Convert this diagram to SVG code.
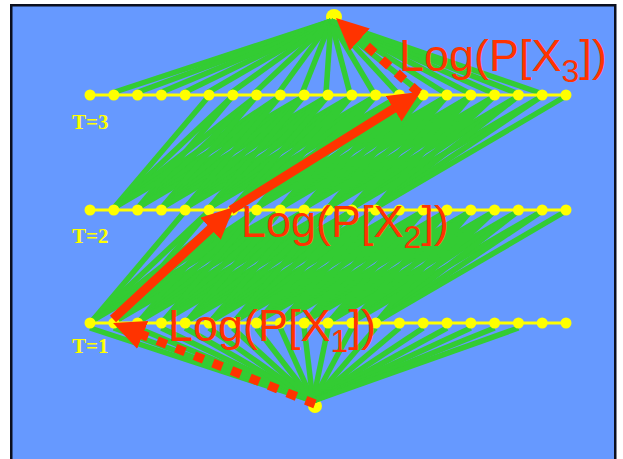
<svg xmlns="http://www.w3.org/2000/svg" width="623" height="459" viewBox="0 0 623 459">
  <style>
    .panel { fill: #6699ff; stroke: #0b0f1e; stroke-width: 2.5; }
    .edge { stroke: #33cc33; stroke-width: 5.5; stroke-linecap: butt; fill: none; }
    .rail { stroke: #ffff00; stroke-width: 3; fill: none; }
    .dot { fill: #ffff00; }
    .path-solid { stroke: #ff3300; stroke-width: 9; fill: none; }
    .path-dash { stroke: #ff3300; stroke-width: 9; fill: none; stroke-dasharray: 10 10; }
    .tlabel { font-family: "Liberation Serif", "Times New Roman", serif; font-weight: bold; font-size: 21px; fill: #ffff00; }
    .plabel { font-family: "Liberation Sans", Arial, sans-serif; font-size: 45px; fill: #ff3300; }
    .sub { font-size: 32px; }
  </style>
  <defs>
    <marker id="head" markerUnits="userSpaceOnUse" markerWidth="32" markerHeight="30" viewBox="0 0 32 30" refX="12" refY="15" orient="auto">
      <path d="M0,0 L32,15 L0,30 Z" fill="#ff3300"/>
    </marker>
    <!-- fan of transitions leaving one T=1 state towards T=2 -->
    <g id="fanA">
      <line class="edge" x1="2" y1="321" x2="95.2" y2="211"/>
      <line class="edge" x1="2" y1="321" x2="119" y2="211"/>
      <line class="edge" x1="2" y1="321" x2="142.8" y2="211"/>
      <line class="edge" x1="2" y1="321" x2="166.6" y2="211"/>
      <line class="edge" x1="2" y1="321" x2="190.4" y2="211"/>
    </g>
    <!-- fan of transitions leaving one T=2 state towards T=3 -->
    <g id="fanB">
      <line class="edge" x1="0" y1="208" x2="95.2" y2="96"/>
      <line class="edge" x1="0" y1="208" x2="119" y2="96"/>
      <line class="edge" x1="0" y1="208" x2="142.8" y2="96"/>
      <line class="edge" x1="0" y1="208" x2="166.6" y2="96"/>
      <line class="edge" x1="0" y1="208" x2="190.4" y2="96"/>
    </g>
  </defs>

  <rect x="0" y="0" width="623" height="459" fill="#ffffff"/>
  <rect class="panel" x="11.25" y="5.25" width="604" height="470"/>

  <g id="start-node"><circle class="dot" cx="315" cy="406" r="7"/></g>
  <g id="end-node"><circle class="dot" cx="334" cy="17" r="8"/></g>

  <g id="connectors">
    <!-- start node to T=1 -->
    <g id="fan-start">
      <line class="edge" x1="313" y1="401" x2="90" y2="328"/>
      <line class="edge" x1="313" y1="401" x2="113.8" y2="328"/>
      <line class="edge" x1="313" y1="401" x2="137.6" y2="328"/>
      <line class="edge" x1="313" y1="401" x2="161.4" y2="328"/>
      <line class="edge" x1="313" y1="401" x2="185.2" y2="328"/>
      <line class="edge" x1="313" y1="401" x2="209" y2="328"/>
      <line class="edge" x1="313" y1="401" x2="232.8" y2="328"/>
      <line class="edge" x1="313" y1="401" x2="256.6" y2="328"/>
      <line class="edge" x1="313" y1="401" x2="280.4" y2="328"/>
      <line class="edge" x1="313" y1="401" x2="304.2" y2="328"/>
      <line class="edge" x1="313" y1="401" x2="328" y2="328"/>
      <line class="edge" x1="313" y1="401" x2="351.8" y2="328"/>
      <line class="edge" x1="313" y1="401" x2="375.6" y2="328"/>
      <line class="edge" x1="313" y1="401" x2="399.4" y2="328"/>
      <line class="edge" x1="313" y1="401" x2="423.2" y2="328"/>
      <line class="edge" x1="313" y1="401" x2="447" y2="328"/>
      <line class="edge" x1="313" y1="401" x2="470.8" y2="328"/>
      <line class="edge" x1="313" y1="401" x2="494.6" y2="328"/>
      <line class="edge" x1="313" y1="401" x2="518.4" y2="328"/>
    </g>
    <!-- T=1 to T=2 -->
    <g id="fan-t1-t2">
      <use href="#fanA" x="90"/>
      <use href="#fanA" x="113.8"/>
      <use href="#fanA" x="137.6"/>
      <use href="#fanA" x="161.4"/>
      <use href="#fanA" x="185.2"/>
      <use href="#fanA" x="209"/>
      <use href="#fanA" x="232.8"/>
      <use href="#fanA" x="256.6"/>
      <use href="#fanA" x="280.4"/>
      <use href="#fanA" x="304.2"/>
      <use href="#fanA" x="328"/>
      <use href="#fanA" x="351.8"/>
      <use href="#fanA" x="375.6"/>
    </g>
    <!-- T=2 to T=3 -->
    <g id="fan-t2-t3">
      <use href="#fanB" x="113.8"/>
      <use href="#fanB" x="137.6"/>
      <use href="#fanB" x="161.4"/>
      <use href="#fanB" x="185.2"/>
      <use href="#fanB" x="209"/>
      <use href="#fanB" x="232.8"/>
      <use href="#fanB" x="256.6"/>
      <use href="#fanB" x="280.4"/>
      <use href="#fanB" x="304.2"/>
      <use href="#fanB" x="328"/>
      <use href="#fanB" x="351.8"/>
      <use href="#fanB" x="375.6"/>
    </g>
    <!-- T=3 to end node -->
    <g id="fan-end">
      <line class="edge" x1="331" y1="21" x2="111.8" y2="93"/>
      <line class="edge" x1="331" y1="21" x2="135.6" y2="93"/>
      <line class="edge" x1="331" y1="21" x2="159.4" y2="93"/>
      <line class="edge" x1="331" y1="21" x2="183.2" y2="93"/>
      <line class="edge" x1="331" y1="21" x2="207" y2="93"/>
      <line class="edge" x1="331" y1="21" x2="230.8" y2="93"/>
      <line class="edge" x1="331" y1="21" x2="254.6" y2="93"/>
      <line class="edge" x1="331" y1="21" x2="278.4" y2="93"/>
      <line class="edge" x1="331" y1="21" x2="302.2" y2="93"/>
      <line class="edge" x1="331" y1="21" x2="326" y2="93"/>
      <line class="edge" x1="331" y1="21" x2="349.8" y2="93"/>
      <line class="edge" x1="331" y1="21" x2="373.6" y2="93"/>
      <line class="edge" x1="331" y1="21" x2="397.4" y2="93"/>
      <line class="edge" x1="331" y1="21" x2="421.2" y2="93"/>
      <line class="edge" x1="331" y1="21" x2="445" y2="93"/>
      <line class="edge" x1="331" y1="21" x2="468.8" y2="93"/>
      <line class="edge" x1="331" y1="21" x2="492.6" y2="93"/>
      <line class="edge" x1="331" y1="21" x2="516.4" y2="93"/>
      <line class="edge" x1="331" y1="21" x2="540.2" y2="93"/>
    </g>
  </g>

  <g id="layer-t1">
    <line class="rail" x1="90" y1="323" x2="566" y2="323"/>
    <circle class="dot" cx="90" cy="323" r="5.5"/><circle class="dot" cx="113.8" cy="323" r="5.5"/><circle class="dot" cx="137.6" cy="323" r="5.5"/>
    <circle class="dot" cx="161.4" cy="323" r="5.5"/><circle class="dot" cx="185.2" cy="323" r="5.5"/><circle class="dot" cx="209" cy="323" r="5.5"/>
    <circle class="dot" cx="232.8" cy="323" r="5.5"/><circle class="dot" cx="256.6" cy="323" r="5.5"/><circle class="dot" cx="280.4" cy="323" r="5.5"/>
    <circle class="dot" cx="304.2" cy="323" r="5.5"/><circle class="dot" cx="328" cy="323" r="5.5"/><circle class="dot" cx="351.8" cy="323" r="5.5"/>
    <circle class="dot" cx="375.6" cy="323" r="5.5"/><circle class="dot" cx="399.4" cy="323" r="5.5"/><circle class="dot" cx="423.2" cy="323" r="5.5"/>
    <circle class="dot" cx="447" cy="323" r="5.5"/><circle class="dot" cx="470.8" cy="323" r="5.5"/><circle class="dot" cx="494.6" cy="323" r="5.5"/>
    <circle class="dot" cx="518.4" cy="323" r="5.5"/><circle class="dot" cx="542.2" cy="323" r="5.5"/><circle class="dot" cx="566" cy="323" r="5.5"/>
    <text class="tlabel" x="72" y="353">T=1</text>
  </g>
  <g id="layer-t2">
    <line class="rail" x1="90" y1="210" x2="566" y2="210"/>
    <circle class="dot" cx="90" cy="210" r="5.5"/><circle class="dot" cx="113.8" cy="210" r="5.5"/><circle class="dot" cx="137.6" cy="210" r="5.5"/>
    <circle class="dot" cx="161.4" cy="210" r="5.5"/><circle class="dot" cx="185.2" cy="210" r="5.5"/><circle class="dot" cx="209" cy="210" r="5.5"/>
    <circle class="dot" cx="232.8" cy="210" r="5.5"/><circle class="dot" cx="256.6" cy="210" r="5.5"/><circle class="dot" cx="280.4" cy="210" r="5.5"/>
    <circle class="dot" cx="304.2" cy="210" r="5.5"/><circle class="dot" cx="328" cy="210" r="5.5"/><circle class="dot" cx="351.8" cy="210" r="5.5"/>
    <circle class="dot" cx="375.6" cy="210" r="5.5"/><circle class="dot" cx="399.4" cy="210" r="5.5"/><circle class="dot" cx="423.2" cy="210" r="5.5"/>
    <circle class="dot" cx="447" cy="210" r="5.5"/><circle class="dot" cx="470.8" cy="210" r="5.5"/><circle class="dot" cx="494.6" cy="210" r="5.5"/>
    <circle class="dot" cx="518.4" cy="210" r="5.5"/><circle class="dot" cx="542.2" cy="210" r="5.5"/><circle class="dot" cx="566" cy="210" r="5.5"/>
    <text class="tlabel" x="72" y="243">T=2</text>
  </g>
  <g id="layer-t3">
    <line class="rail" x1="90" y1="95" x2="566" y2="95"/>
    <circle class="dot" cx="90" cy="95" r="5.5"/><circle class="dot" cx="113.8" cy="95" r="5.5"/><circle class="dot" cx="137.6" cy="95" r="5.5"/>
    <circle class="dot" cx="161.4" cy="95" r="5.5"/><circle class="dot" cx="185.2" cy="95" r="5.5"/><circle class="dot" cx="209" cy="95" r="5.5"/>
    <circle class="dot" cx="232.8" cy="95" r="5.5"/><circle class="dot" cx="256.6" cy="95" r="5.5"/><circle class="dot" cx="280.4" cy="95" r="5.5"/>
    <circle class="dot" cx="304.2" cy="95" r="5.5"/><circle class="dot" cx="328" cy="95" r="5.5"/><circle class="dot" cx="351.8" cy="95" r="5.5"/>
    <circle class="dot" cx="375.6" cy="95" r="5.5"/><circle class="dot" cx="399.4" cy="95" r="5.5"/><circle class="dot" cx="423.2" cy="95" r="5.5"/>
    <circle class="dot" cx="447" cy="95" r="5.5"/><circle class="dot" cx="470.8" cy="95" r="5.5"/><circle class="dot" cx="494.6" cy="95" r="5.5"/>
    <circle class="dot" cx="518.4" cy="95" r="5.5"/><circle class="dot" cx="542.2" cy="95" r="5.5"/><circle class="dot" cx="566" cy="95" r="5.5"/>
    <text class="tlabel" x="72" y="129">T=3</text>
  </g>

  <!-- best path, one log-probability step per layer -->
  <g id="best-path">
    <path class="path-dash" d="M315,404 L131.6,330.4" marker-end="url(#head)"/>
    <path class="path-solid" d="M113,319 L219.3,220.6" marker-end="url(#head)"/>
    <path class="path-solid" d="M231,210 L403.8,102.3" marker-end="url(#head)"/>
    <path class="path-dash" d="M419,93 L350.8,31.5" marker-end="url(#head)"/>
  </g>

  <g id="labels">
    <text class="plabel" x="168" y="341">Log(P[X<tspan class="sub" dy="11">1</tspan><tspan dy="-11">])</tspan></text>
    <text class="plabel" x="241" y="237">Log(P[X<tspan class="sub" dy="11">2</tspan><tspan dy="-11">])</tspan></text>
    <text class="plabel" x="399" y="71">Log(P[X<tspan class="sub" dy="11">3</tspan><tspan dy="-11">])</tspan></text>
  </g>
</svg>
